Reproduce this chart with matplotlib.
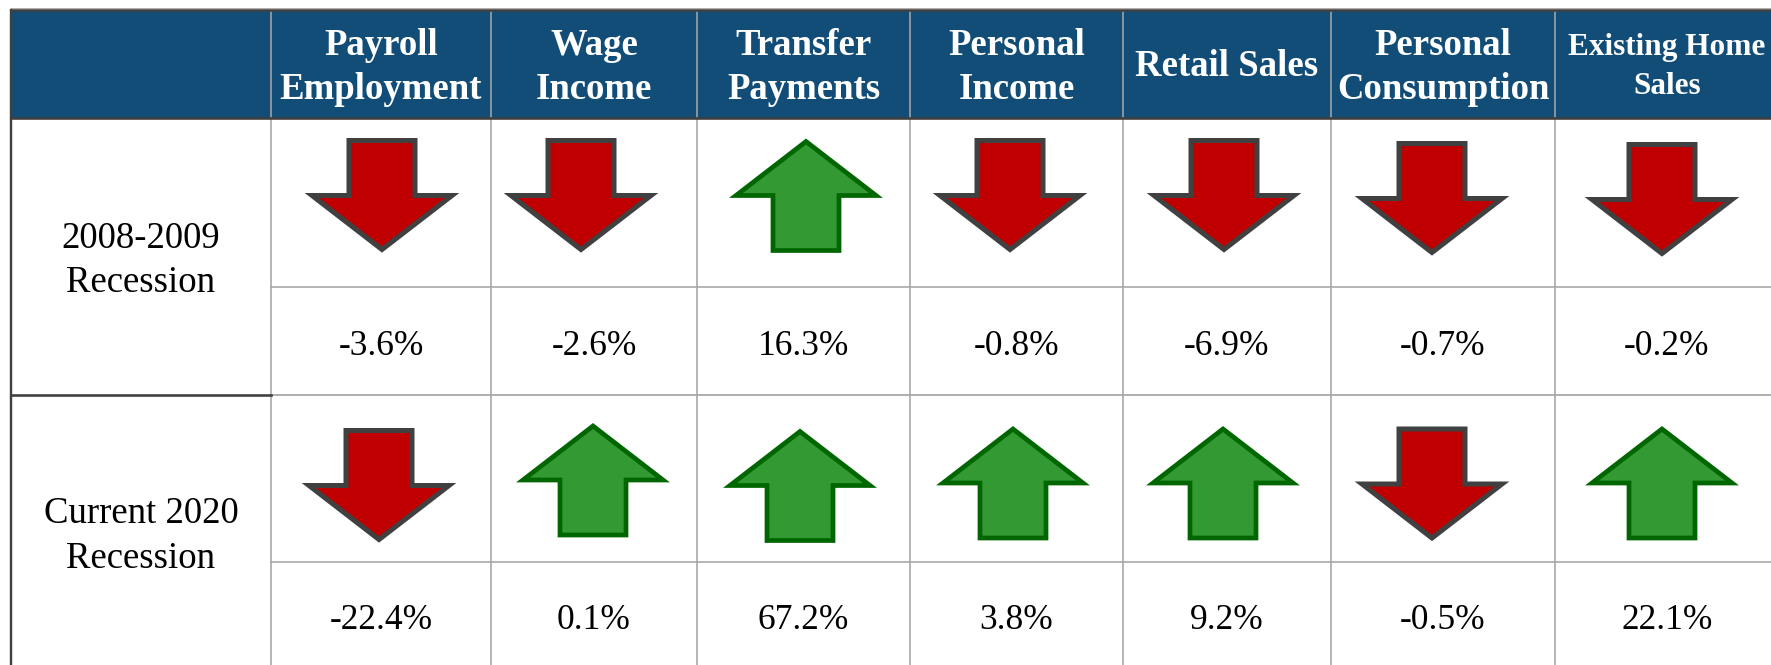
import matplotlib
matplotlib.use("Agg")
import matplotlib.pyplot as plt
from matplotlib.patches import Polygon, Rectangle

# ---------------- data ----------------
categories = ["Payroll\nEmployment", "Wage\nIncome", "Transfer\nPayments",
              "Personal\nIncome", "Retail Sales", "Personal\nConsumption",
              "Existing Home\nSales"]
row_labels = ["2008-2009\nRecession", "Current 2020\nRecession"]
values_2008 = [-3.6, -2.6, 16.3, -0.8, -6.9, -0.7, -0.2]
values_2020 = [-22.4, 0.1, 67.2, 3.8, 9.2, -0.5, 22.1]
rows = [values_2008, values_2020]

# ---------------- layout (pixels) ----------------
W, H = 1771, 665
col_edges = [11, 271, 491, 697, 910, 1123, 1331, 1555, 1779]
header_top, header_bot = 9.5, 118
arrow_rows = [(118, 287), (395, 562)]
value_rows = [(287, 395), (562, 665)]
group_sep = 395
arrow_x = [[382, 581, 806, 1010, 1224, 1432, 1662],
           [379, 593, 800, 1013, 1223, 1432, 1662]]
arrow_y = [[195.5, 195.5, 195.5, 195.5, 195.5, 198.5, 199.5],
           [485.5, 480, 485.5, 483, 483, 484, 483]]
value_baseline = [355, 629]
label_baselines = [[248, 292], [523, 568]]
header_sizes = [26.5] * 6 + [22.5]
header_baselines = {2: [55, 99], 1: [76]}
header_baselines_last = [55, 94]

HEADER_BG = "#114D77"
GRID = "#A6A6A6"
DARK = "#404040"
RED, RED_EDGE = "#C00000", "#404040"
GREEN, GREEN_EDGE = "#339933", "#006600"
FONT = "Liberation Serif"

fig = plt.figure(figsize=(W / 100, H / 100), dpi=100)
ax = fig.add_axes([0, 0, 1, 1])
ax.set_xlim(0, W)
ax.set_ylim(H, 0)
ax.axis("off")

px = 72 / 100  # points per pixel

# header background
ax.add_patch(Rectangle((col_edges[0], header_top), W - col_edges[0],
                       header_bot - header_top, facecolor=HEADER_BG,
                       edgecolor="none", zorder=1))

# grid lines (gray)
for x in col_edges[1:-1]:
    ax.plot([x, x], [header_top, H], color=GRID, lw=1.6 * px, zorder=2,
            solid_capstyle="butt")
for y in [arrow_rows[0][1], arrow_rows[1][1]]:
    ax.plot([col_edges[1], W], [y, y], color=GRID, lw=1.6 * px, zorder=2)
ax.plot([col_edges[1], W], [group_sep, group_sep], color=GRID, lw=1.8 * px,
        zorder=2)

# dark borders
ax.plot([col_edges[0], W], [7.5, 7.5], color="#B0B0B0", lw=1.0 * px, zorder=3)
ax.plot([col_edges[0], W], [header_top + 0.5, header_top + 0.5], color=DARK,
        lw=2.6 * px, zorder=3)
ax.plot([col_edges[0], W], [header_bot, header_bot], color=DARK, lw=2.6 * px,
        zorder=3)
ax.plot([col_edges[0], col_edges[0]], [header_top, H], color=DARK,
        lw=2.4 * px, zorder=3)
ax.plot([col_edges[0], col_edges[1]], [group_sep, group_sep], color=DARK,
        lw=2.6 * px, zorder=3)

# header text
for i, cat in enumerate(categories):
    cx = (col_edges[i + 1] + col_edges[i + 2]) / 2
    lines = cat.split("\n")
    if i == len(categories) - 1:
        bls = header_baselines_last
    else:
        bls = header_baselines[len(lines)]
    for line, bl in zip(lines, bls):
        ax.text(cx, bl, line, ha="center", va="baseline", color="white",
                fontsize=header_sizes[i], fontweight="bold", family=FONT,
                zorder=4)

# row labels
lx = (col_edges[0] + col_edges[1]) / 2
for r, lab in enumerate(row_labels):
    for line, bl in zip(lab.split("\n"), label_baselines[r]):
        ax.text(lx, bl, line, ha="center", va="baseline", color="black",
                fontsize=26.5, family=FONT, zorder=4)


def arrow_poly(cx, cy, up):
    sw, hw = 33, 70
    top, shoulder, tip = -55, 0, 54
    pts = [(-sw, top), (sw, top), (sw, shoulder), (hw, shoulder),
           (0, tip), (-hw, shoulder), (-sw, shoulder)]
    if up:
        pts = [(x, -y) for x, y in pts]
    return [(cx + x, cy + y) for x, y in pts]


# arrows and values
for r, vals in enumerate(rows):
    for c, v in enumerate(vals):
        up = v > 0
        poly = Polygon(arrow_poly(arrow_x[r][c], arrow_y[r][c], up),
                       closed=True,
                       facecolor=GREEN if up else RED,
                       edgecolor=GREEN_EDGE if up else RED_EDGE,
                       lw=(3.4 if up else 3.6), joinstyle="miter", zorder=5)
        ax.add_patch(poly)
        cx = (col_edges[c + 1] + col_edges[c + 2]) / 2
        ax.text(cx, value_baseline[r], f"{v:.1f}%", ha="center",
                va="baseline", color="black", fontsize=25.5, family=FONT,
                zorder=4)

fig.savefig("out.png", dpi=100, facecolor="white")
